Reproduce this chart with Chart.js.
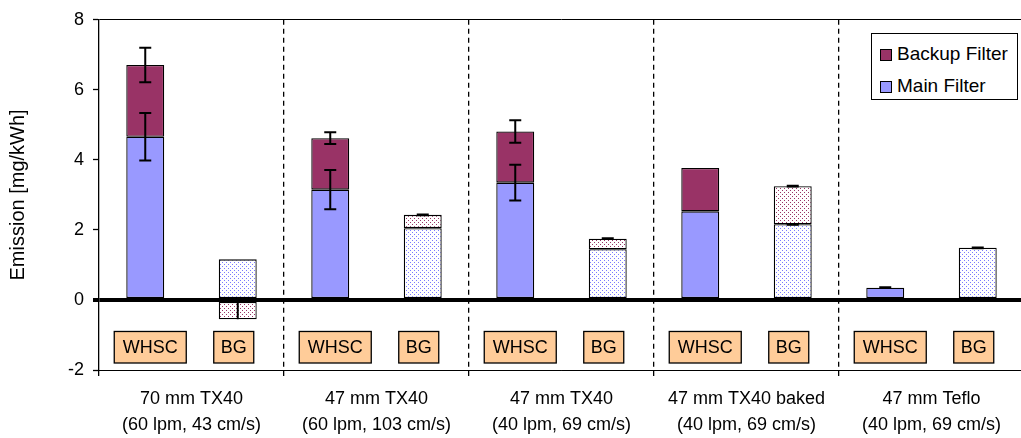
<!DOCTYPE html>
<html>
<head>
<meta charset="utf-8">
<script src="https://cdn.jsdelivr.net/npm/chart.js@4.4.1/dist/chart.umd.min.js"></script>
<style>
  html, body { margin: 0; padding: 0; background: #fff; overflow: hidden; }
  #wrap { position: relative; width: 1026px; height: 438px; }
  #legend {
    position: absolute; left: 871px; top: 33px; width: 147px; height: 67px;
    border: 1px solid #000; background: #fff; box-sizing: border-box;
    font: 19px "Liberation Sans", Arial, sans-serif; color: #000;
  }
  #legend .row { position: absolute; left: 8px; height: 22px; line-height: 22px; white-space: nowrap; }
  #legend .sw { display: inline-block; width: 12px; height: 12px; border: 1px solid #000; box-sizing: border-box; margin-right: 5px; vertical-align: -1px; }
</style>
</head>
<body>
<div id="wrap">
  <canvas id="chart"></canvas>
  <div id="legend">
    <div class="row" style="top:9px"><span class="sw" style="background:#993366"></span>Backup Filter</div>
    <div class="row" style="top:41px"><span class="sw" style="background:#9999FF"></span>Main Filter</div>
  </div>
</div>
<script>
// cases along the x axis (WHSC test vs background run, per filter setup)
const categories = ['WHSC', 'BG', 'WHSC', 'BG', 'WHSC', 'BG', 'WHSC', 'BG', 'WHSC', 'BG'];
const groupLabels = [
  ['70 mm TX40', '(60 lpm, 43 cm/s)'],
  ['47 mm TX40', '(60 lpm, 103 cm/s)'],
  ['47 mm TX40', '(40 lpm, 69 cm/s)'],
  ['47 mm TX40 baked', '(40 lpm, 69 cm/s)'],
  ['47 mm Teflo', '(40 lpm, 69 cm/s)']
];
// mg/kWh
const mainFilter = [4.66, 1.16, 3.15, 2.05, 3.35, 1.45, 2.53, 2.16, 0.35, 1.49];
const backupFilter = [2.05, -0.55, 1.47, 0.38, 1.46, 0.30, 1.24, 1.09, null, null];
const mainErr = [0.68, 0, 0.56, 0, 0.51, 0, 0, 0.01, 0.01, 0.01];
const backupErr = [0.49, 0.55, 0.17, 0.01, 0.32, 0.01, 0, 0.01, 0, 0];
const yTicks = [-2, 0, 2, 4, 6, 8];

const FONT = '"Liberation Sans", Arial, sans-serif';

function dots(color) {
  const c = document.createElement('canvas');
  c.width = 4; c.height = 4;
  const g = c.getContext('2d');
  g.fillStyle = '#fff';
  g.fillRect(0, 0, 4, 4);
  g.fillStyle = color;
  g.fillRect(0, 0, 1, 1);
  g.fillRect(2, 2, 1, 1);
  return g.createPattern(c, 'repeat');
}
const bluePat = dots('#7a7aff');
const redPat = dots('#993366');

// WHSC / BG tags under the zero line
const caseBoxes = {
  id: 'caseBoxes',
  afterDatasetsDraw(chart) {
    const { ctx } = chart;
    const x = chart.scales.x, y = chart.scales.y;
    const top = y.getPixelForValue(-0.9);
    const bottom = y.getPixelForValue(-1.8);
    ctx.save();
    ctx.font = '18px ' + FONT;
    ctx.textAlign = 'center';
    ctx.textBaseline = 'middle';
    categories.forEach((lab, i) => {
      const w = lab === 'WHSC' ? 72 : 40;
      const cx = x.getPixelForValue(i) + (lab === 'WHSC' ? 5 : -4);
      ctx.fillStyle = '#FFCC99';
      ctx.fillRect(cx - w / 2, top, w, bottom - top);
      ctx.strokeStyle = '#000';
      ctx.lineWidth = 1.3;
      ctx.strokeRect(cx - w / 2, top, w, bottom - top);
      ctx.fillStyle = '#000';
      ctx.fillText(lab, cx, (top + bottom) / 2 + 1);
    });
    ctx.restore();
  }
};

const errorBars = {
  id: 'errorBars',
  afterDatasetsDraw(chart) {
    const { ctx } = chart;
    const y = chart.scales.y;
    ctx.save();
    ctx.strokeStyle = '#000';
    ctx.lineWidth = 2;
    chart.data.datasets.forEach((ds, di) => {
      const meta = chart.getDatasetMeta(di);
      meta.data.forEach((bar, i) => {
        const e = ds.errors[i];
        if (!e || ds.data[i] == null) return;
        const v = y.getValueForPixel(bar.y);
        const hi = y.getPixelForValue(v + e);
        const neg = ds.data[i] < 0;
        const lo = neg ? bar.y : y.getPixelForValue(v - e);
        ctx.beginPath();
        ctx.moveTo(bar.x, hi);
        ctx.lineTo(bar.x, lo);
        if (!neg) {
          ctx.moveTo(bar.x - 6, hi); ctx.lineTo(bar.x + 6, hi);
          ctx.moveTo(bar.x - 6, lo); ctx.lineTo(bar.x + 6, lo);
        }
        ctx.stroke();
      });
    });
    ctx.restore();
  }
};

const barStyle = {
  borderColor: '#000',
  borderWidth: 1.3,
  borderSkipped: false,
  barPercentage: 0.41,
  categoryPercentage: 1
};

new Chart(document.getElementById('chart'), {
  type: 'bar',
  data: {
    labels: categories,
    datasets: [
      Object.assign({
        label: 'Main Filter',
        data: mainFilter,
        errors: mainErr,
        backgroundColor: c => (c.dataIndex % 2 ? bluePat : '#9999FF')
      }, barStyle),
      Object.assign({
        label: 'Backup Filter',
        data: backupFilter,
        errors: backupErr,
        backgroundColor: c => (c.dataIndex % 2 ? redPat : '#993366')
      }, barStyle)
    ]
  },
  options: {
    responsive: true,
    maintainAspectRatio: false,
    animation: false,
    devicePixelRatio: 1,
    layout: { padding: { top: 16, right: 2, left: 0, bottom: 0 } },
    plugins: { legend: { display: false }, tooltip: { enabled: false } },
    scales: {
      x: {
        display: false,
        stacked: true,
        offset: true,
        grid: { offset: true }
      },
      xg: {
        axis: 'x',
        type: 'category',
        labels: groupLabels,
        position: 'bottom',
        offset: true,
        grid: {
          offset: true,
          color: c => (c.index === 0 ? 'rgba(0,0,0,0)' : '#000'),
          lineWidth: 1.3,
          tickLength: 6,
          tickColor: '#000',
          tickBorderDash: [5, 4]
        },
        border: { color: '#000', width: 1, dash: [5, 4] },
        ticks: {
          color: '#000',
          font: { family: FONT, size: 18, lineHeight: 1.45 },
          padding: 10,
          autoSkip: false,
          maxRotation: 0
        },
        afterFit: s => { s.height = 68; }
      },
      y: {
        min: -2,
        max: 8,
        stacked: true,
        afterBuildTicks: s => { s.ticks = yTicks.map(v => ({ value: v })); },
        afterFit: s => { s.width = 99; },
        ticks: { color: '#000', font: { family: FONT, size: 18 }, padding: 9 },
        grid: {
          z: 1,
          color: c => ([0, 8, -2].includes(c.tick.value) ? '#000' : 'rgba(0,0,0,0)'),
          lineWidth: c => (c.tick.value === 0 ? 4 : 1),
          tickColor: '#000',
          tickWidth: c => (c.tick.value === 0 ? 4 : 1.3),
          tickLength: 6
        },
        border: { color: '#000', width: 1.3, z: 1 },
        title: {
          display: true,
          text: 'Emission [mg/kWh]',
          color: '#000',
          font: { family: FONT, size: 20 },
          padding: { top: 6, bottom: 0 }
        }
      }
    }
  },
  plugins: [caseBoxes, errorBars]
});
</script>
</body>
</html>
